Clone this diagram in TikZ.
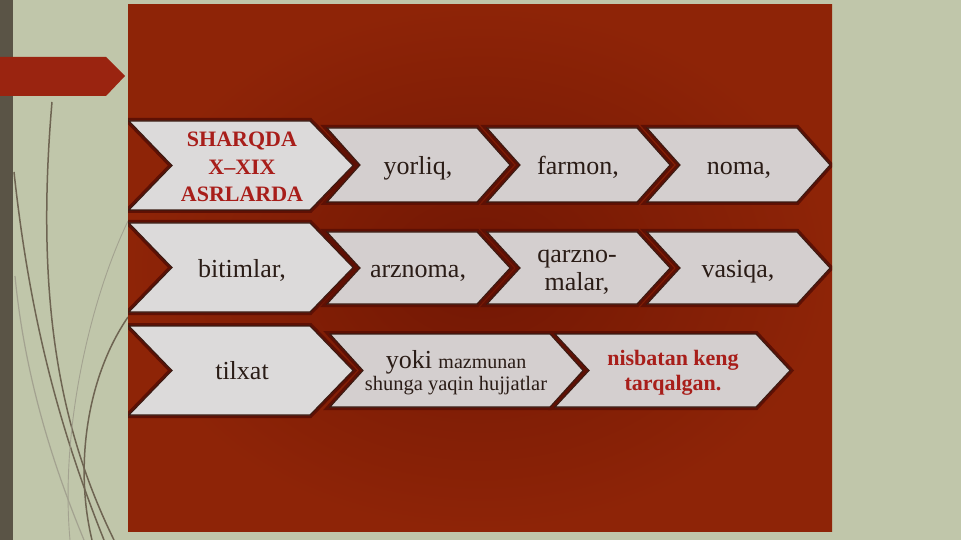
\documentclass[tikz,border=0pt]{standalone}
\usepackage{fontspec}
\setmainfont{Liberation Serif}
\definecolor{bg}{HTML}{C0C6AA}
\definecolor{band}{HTML}{5A5446}
\definecolor{rust}{HTML}{8E2407}
\definecolor{rustdark}{HTML}{721704}
\definecolor{tagred}{HTML}{9A2410}
\definecolor{halocol}{HTML}{5E1004}
\definecolor{chevfill}{HTML}{D4CFCF}
\definecolor{chevfillL}{HTML}{DCDADA}
\definecolor{chevline}{HTML}{3A1A12}
\definecolor{txt}{HTML}{2A1C16}
\definecolor{redtxt}{HTML}{A81E1A}
\definecolor{curveD}{HTML}{6E6452}
\definecolor{curveL}{HTML}{A3A290}
\newcommand\chevpath[5]{(#1,#3) -- ({#2-#5},#3) -- (#2,{(#3+#4)/2}) -- ({#2-#5},#4) -- (#1,#4) -- ({#1+#5},{(#3+#4)/2}) -- cycle}
\newcommand\chev[6]{\draw[halo] \chevpath{#1}{#2}{#3}{#4}{#5}; \draw[chevbox,fill=#6] \chevpath{#1}{#2}{#3}{#4}{#5};}
\begin{document}
\begin{tikzpicture}[x=1pt,y=-1pt,
  halo/.style={draw=halocol,line width=6pt,line join=miter},
  chevbox/.style={draw=chevline,line width=1.1pt,line join=miter},
  lbl/.style={anchor=base,inner sep=0pt,text=txt,font=\fontsize{26}{26}\selectfont},
  hd/.style={anchor=base,inner sep=0pt,text=redtxt,font=\bfseries\fontsize{22}{22}\selectfont},
  rd/.style={anchor=base,inner sep=0pt,text=redtxt,font=\bfseries\fontsize{22}{22}\selectfont},
  curvedark/.style={draw=curveD,line width=1.5pt},
  curvelight/.style={draw=curveL,line width=1.2pt}]
\useasboundingbox (0,0) rectangle (961,540);
% background
\fill[bg] (0,0) rectangle (961,540);
\fill[band] (0,0) rectangle (13,540);
% decorative curves
\draw[curvedark] (52,102) .. controls (35,300) and (60,430) .. (114,540);
\draw[curvedark] (14,172) .. controls (30,320) and (60,430) .. (104,540);
\draw[curvelight] (15,276) .. controls (25,380) and (55,470) .. (84,540);
\draw[curvelight,line width=0.9pt] (128,221) .. controls (90,300) and (60,430) .. (70,540);
\draw[curvedark] (128,317) .. controls (85,380) and (75,470) .. (92,540);
% top-left tag
\fill[tagred] (0,57) -- (106,57) -- (125,76) -- (106,96) -- (0,96) -- cycle;
% main red panel
\shade[inner color=rustdark,outer color=rust] (128,5) rectangle (832,531);
\begin{scope}
\clip (128,5) rectangle (832,531);
% row 1
\chev{129}{353}{121}{210}{43}{chevfillL}
\chev{327}{510}{128}{202}{33}{chevfill}
\chev{487}{670}{128}{202}{33}{chevfill}
\chev{647}{830}{128}{202}{33}{chevfill}
% row 2
\chev{129}{353}{223}{312}{43}{chevfillL}
\chev{327}{510}{232}{304}{33}{chevfill}
\chev{487}{670}{232}{304}{33}{chevfill}
\chev{647}{830}{232}{304}{33}{chevfill}
% row 3
\chev{129}{353}{326}{415}{43}{chevfillL}
\chev{330}{583}{334}{407}{33}{chevfill}
\chev{555}{790}{334}{407}{34}{chevfill}
\end{scope}
% texts row 1
\node[hd] (h1) at (242,147) {SHARQDA};
\node[hd] (h2) at (242,175) {X–XIX};
\node[hd] (h3) at (242,202) {ASRLARDA};
\node[lbl] (yorliq) at (418,175) {yorliq,};
\node[lbl] (farmon) at (578,175) {farmon,};
\node[lbl] (noma) at (739,175) {noma,};
% texts row 2
\node[lbl] (bitimlar) at (242,277) {bitimlar,};
\node[lbl] (arznoma) at (418,277) {arznoma,};
\node[lbl] (qarz1) at (577,262) {qarzno-};
\node[lbl] (qarz2) at (577,290) {malar,};
\node[lbl] (vasiqa) at (738,277) {vasiqa,};
% texts row 3
\node[lbl] (tilxat) at (242,379) {tilxat};
\node[lbl] (yoki) at (456,368) {yoki {\fontsize{20}{20}\selectfont mazmunan}};
\node[lbl,font=\fontsize{20.5}{20.5}\selectfont] (shunga) at (456,390) {shunga yaqin hujjatlar};
\node[rd] (nisb1) at (673,365) {nisbatan keng};
\node[rd] (nisb2) at (673,390) {tarqalgan.};
\end{tikzpicture}
\end{document}
